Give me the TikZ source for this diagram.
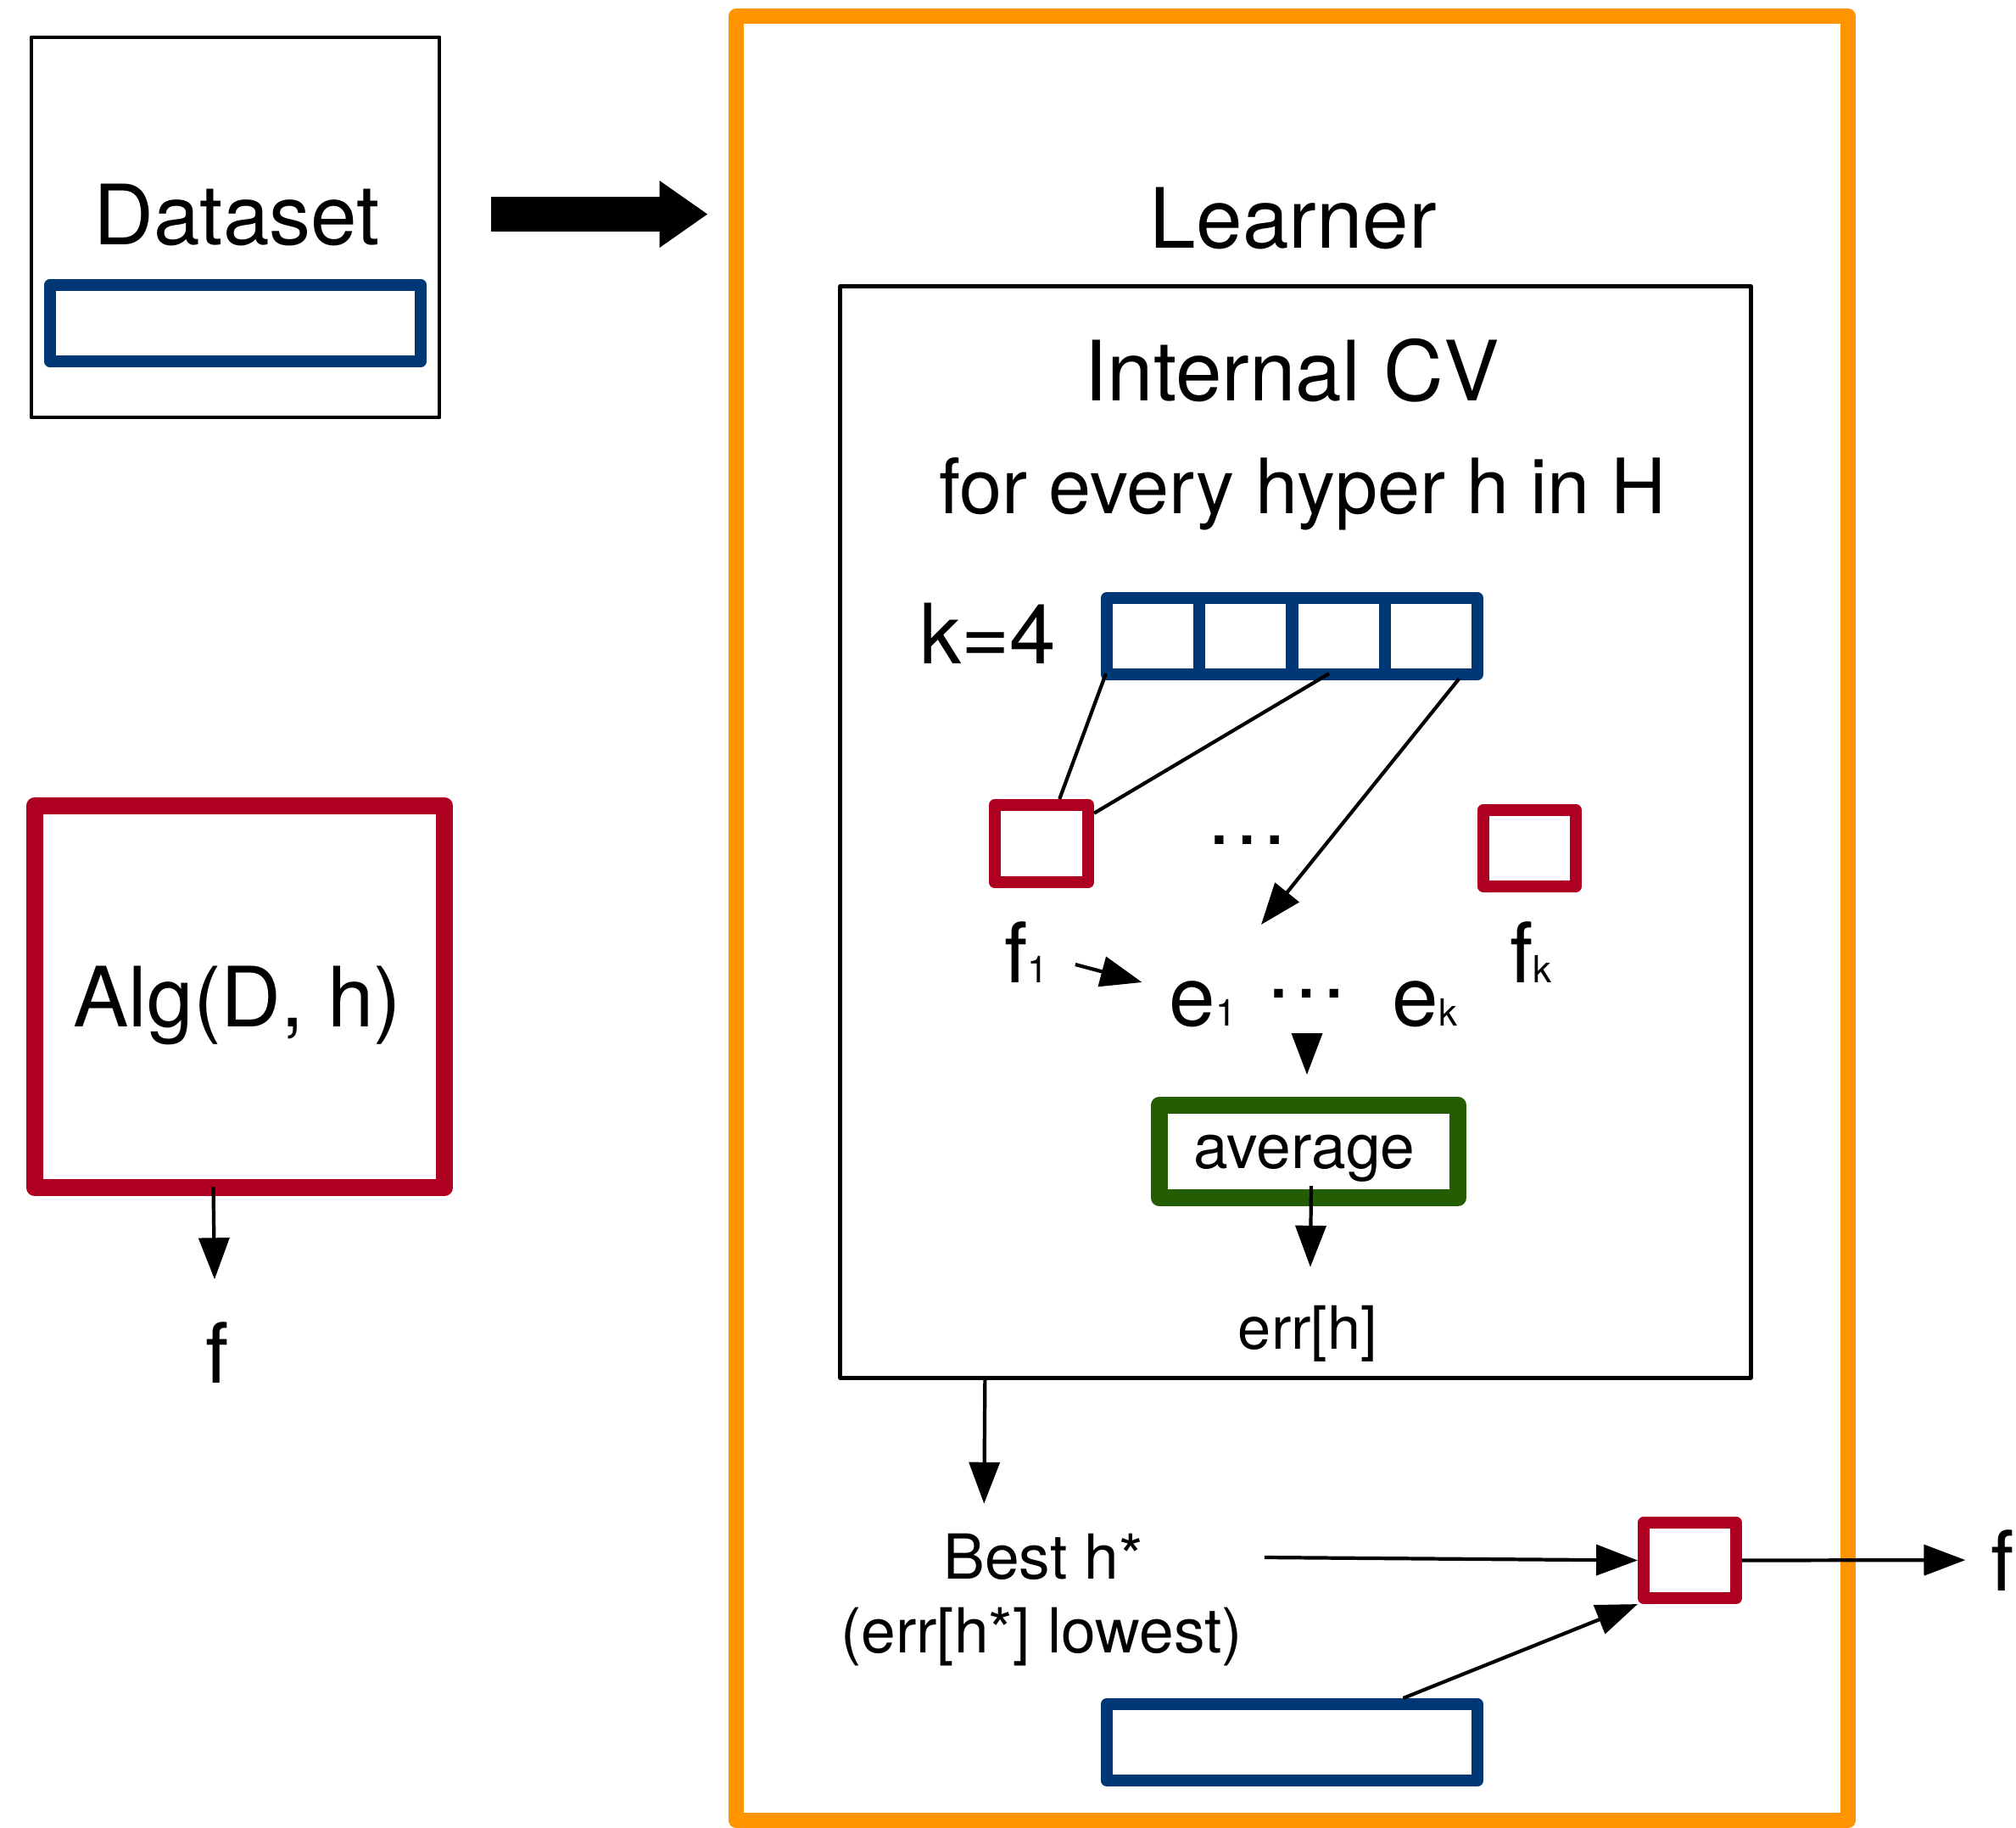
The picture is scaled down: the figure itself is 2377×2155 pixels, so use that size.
\documentclass[tikz,border=0pt]{standalone}
\usepackage{fontspec}
\setmainfont{TeX Gyre Heros}
\usetikzlibrary{arrows.meta,calc}
\definecolor{dblue}{RGB}{0,56,118}
\definecolor{dred}{RGB}{175,0,33}
\definecolor{dgreen}{RGB}{36,94,4}
\definecolor{orng}{RGB}{255,148,0}
\newcommand{\sbs}[1]{{\fontsize{12.5pt}{12.5pt}\selectfont #1}}
\begin{document}
\begin{tikzpicture}[x=0.01cm,y=-0.01cm,
  box/.style={draw, inner sep=0pt, line join=round},
  blackbox/.style={box, line width=1.3pt},
  bluebox/.style={box, draw=dblue, line width=4pt},
  redbox/.style={box, draw=dred, line width=4pt},
  greenbox/.style={box, draw=dgreen, line width=5.7pt},
  orangebox/.style={box, draw=orng, line width=5.1pt},
  txt/.style={inner sep=0pt, outer sep=0pt, anchor=base},
  bigtxt/.style={txt, font=\fontsize{27.9pt}{33pt}\selectfont},
  midtxt/.style={txt, font=\fontsize{25.6pt}{30pt}\selectfont},
  smalltxt/.style={txt, font=\fontsize{20.8pt}{25pt}\selectfont},
  errtxt/.style={txt, font=\fontsize{20pt}{24pt}\selectfont},
  conn/.style={line width=1.2pt},
  arr/.style={conn, -{Triangle[length=13.9pt,width=10.2pt]}},
  bigarrow/.style={line width=11.66pt, -{Triangle[length=16.2pt,width=21.3pt]}}
]
\useasboundingbox (0,0) rectangle (2377,2155);

% Dataset
\node[blackbox, minimum width=4.81cm, minimum height=4.48cm] (ds) at (277.5,268) {};
\node[bluebox, minimum width=4.37cm, minimum height=0.90cm] (dsbar) at (277.5,381) {};
\node[bigtxt] (dst) at (279,289) {Dataset};

% Learner
\node[orangebox, minimum width=13.11cm, minimum height=21.25cm] (lrn) at (1523.5,1082.5) {};
\node[bigtxt] (lrnt) at (1525,293) {Learner};

% Internal CV
\node[blackbox, minimum width=10.73cm, minimum height=12.86cm] (cv) at (1527.5,981) {};
\node[bigtxt] (cvt) at (1523,473) {Internal CV};
\node[midtxt] (hyp) at (1536,606) {for every hyper h in H};
\node[bigtxt] (k) at (1165,783) {k=4};
\foreach \i/\x in {1/1359.6,2/1468.9,3/1578.1,4/1687.4}
  \node[bluebox, minimum width=1.0925cm, minimum height=0.90cm] (fold\i) at (\x,750) {};
\node[redbox, minimum width=1.10cm, minimum height=0.91cm] (fb1) at (1228,994.5) {};
\node[redbox, minimum width=1.09cm, minimum height=0.90cm] (fbk) at (1803.5,1000) {};
\node[bigtxt] (dots1) at (1471,996) {…};
\node[bigtxt] (lf1) at (1210,1159) {f\sbs{1}};
\node[bigtxt] (lfk) at (1805,1159) {f\sbs{k}};
\node[bigtxt] (e1) at (1418,1210) {e\sbs{1}};
\node[bigtxt] (dots2) at (1541,1177) {…};
\node[bigtxt] (ek) at (1680,1210) {e\sbs{k}};
\coordinate (tip1) at (1487,1090);
\node[greenbox, minimum width=3.52cm, minimum height=1.09cm] (avg) at (1543,1357.5) {};
\node[smalltxt] (avgt) at (1538,1377) {average};
\node[errtxt] (err) at (1542,1590) {err[h]};

% Best h*
\node[smalltxt] (best1) at (1230,1861) {Best h*};
\node[smalltxt] (best2) at (1228,1948) {(err[h*] lowest)};
\node[redbox, minimum width=1.09cm, minimum height=0.89cm] (rb) at (1992.5,1839.5) {};
\node[bigtxt] (fout) at (2361,1875) {f};
\node[bluebox, minimum width=4.37cm, minimum height=0.90cm] (bb) at (1523.5,2054) {};

% Alg
\node[redbox, line width=5.7pt, minimum width=4.83cm, minimum height=4.50cm] (alg) at (282.5,1175) {};
\node[bigtxt] (algt) at (280,1211) {Alg(D, h)};
\node[bigtxt] (fl) at (256,1630) {f};

% connectors
\draw[bigarrow] ($(ds.east)+(59,-15.5)$) -- ($(ds.east -| lrn.west)+(-24,-15.5)$);
\draw[conn] ($(fold1.south west)+(6,-8)$) -- (fb1.68);
\draw[conn] ($(fold3.south)+(-11,-8)$) -- (fb1.30);
\draw[arr] ($(fold4.south)+(33,-2)$) -- (tip1);
\draw[arr] ($(lf1.base east)+(32,-22)$) -- ($(e1.base west)+(-32,-52)$);
\draw[arr, shorten <=0.47cm] (dots2.south) -- ($(dots2.south |- avg.north)+(0,-26)$);
\draw[arr] ($(avg.south)+(3,-24)$) -- ($(err.north)+(3,-45)$);
\draw[arr] ($(cv.south west)+(173,-2)$) -- ($(best1.north west)+(48,-35)$);
\draw[arr, shorten <=1.43cm] (best1.east) -- (rb.west);
\draw[arr, shorten >=0.30cm] (rb.east) -- (fout.west);
\draw[arr] ($(bb.north)+(131,0)$) -- (rb.south west);
\draw[arr] ($(alg.south)+(-31,-11)$) -- ($(fl.north)+(-3,-50)$);
\end{tikzpicture}
\end{document}
